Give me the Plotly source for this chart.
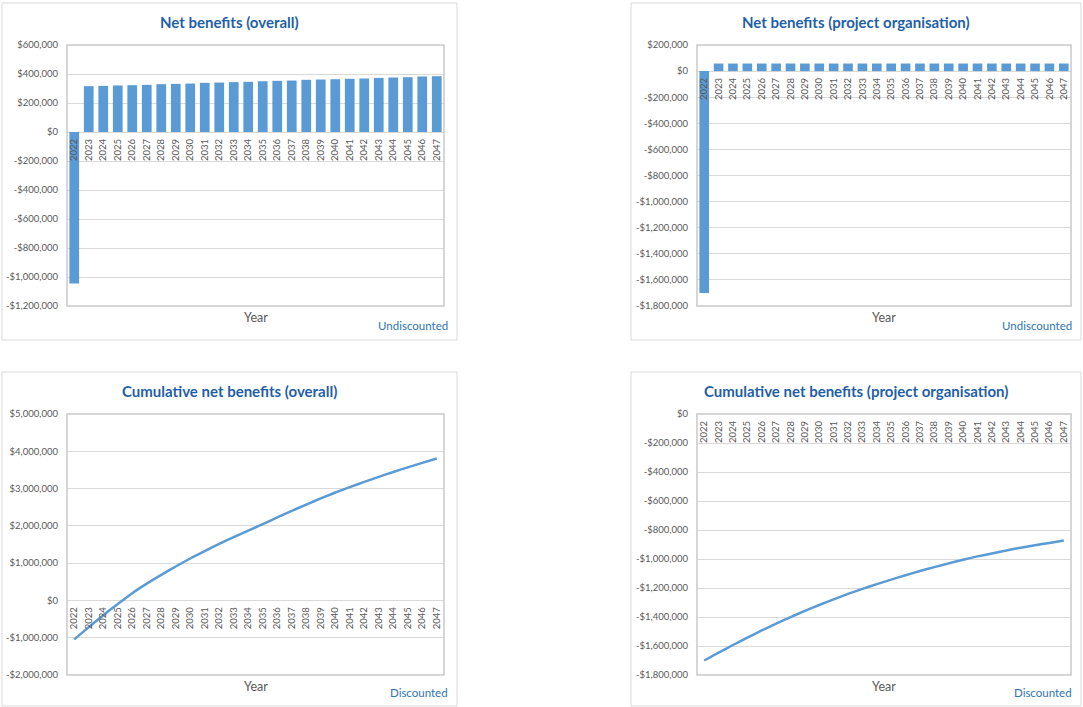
import plotly.graph_objects as go

# ---- data ----
years = [str(y) for y in range(2022, 2048)]

net_overall = [
    -1045000, 316000, 318000, 321000, 323000, 325000, 330000, 332000, 334000,
    339000, 341000, 344000, 346000, 350000, 353000, 355000, 360000, 362000,
    364000, 367000, 369000, 373000, 376000, 378000, 383000, 385000,
]

net_project = [
    -1700000, 58000, 58000, 58000, 58000, 58000, 58000, 58000, 58000,
    58000, 58000, 58000, 58000, 58000, 58000, 58000, 58000, 58000,
    58000, 58000, 58000, 58000, 58000, 58000, 58000, 58000,
]

cum_overall_disc = [
    -1045000, -715000, -395000, -95000, 195000, 450000, 685000, 910000,
    1125000, 1325000, 1515000, 1700000, 1875000, 2045000, 2225000, 2400000,
    2570000, 2735000, 2895000, 3040000, 3180000, 3315000, 3445000, 3570000,
    3690000, 3805000,
]

cum_project_disc = [
    -1700000, -1646000, -1593000, -1542000, -1493000, -1446000, -1401000,
    -1358000, -1317000, -1278000, -1241000, -1206000, -1173000, -1142000,
    -1112000, -1083000, -1056000, -1030000, -1005000, -982000, -962000,
    -941000, -922000, -905000, -889000, -873000,
]

ticks_overall = [-1200000, -1000000, -800000, -600000, -400000, -200000, 0,
                 200000, 400000, 600000]
ticks_project = [-1800000, -1600000, -1400000, -1200000, -1000000, -800000,
                 -600000, -400000, -200000, 0, 200000]
ticks_cum_overall = [-2000000, -1000000, 0, 1000000, 2000000, 3000000,
                     4000000, 5000000]
ticks_cum_project = [-1800000, -1600000, -1400000, -1200000, -1000000,
                     -800000, -600000, -400000, -200000, 0]

titles = [
    "Net benefits (overall)",
    "Net benefits (project organisation)",
    "Cumulative net benefits (overall)",
    "Cumulative net benefits (project organisation)",
]
notes = ["Undiscounted", "Undiscounted", "Discounted", "Discounted"]

# ---- styling ----
W, H = 1083, 707
FONT = "Lato, 'Open Sans', sans-serif"
BLUE = "#5b9bd5"
TITLE_BLUE = "#1f5fa8"
NOTE_BLUE = "#2e74b5"
GREY_TXT = "#595959"
GRID = "#d9d9d9"


def money(v):
    return ("-" if v < 0 else "") + "$" + f"{abs(v):,.0f}"


def px_x(x):
    return x / W


def px_y(y):
    return 1 - y / H


# panel boxes (chart areas) and plot areas, in pixels: (x0, y0, x1, y1)
panels = [(2, 3, 457, 340), (631, 3, 1081, 340),
          (2, 372, 457, 706), (631, 372, 1081, 706)]
plots = [(67, 45, 444, 306), (697, 45, 1071, 306),
         (67, 414, 444, 675), (697, 414, 1071, 675)]
ranges = [(-1200000, 600000), (-1800000, 200000),
          (-2000000, 5000000), (-1800000, 0)]
tickvals = [ticks_overall, ticks_project, ticks_cum_overall, ticks_cum_project]
series = [net_overall, net_project, cum_overall_disc, cum_project_disc]
kinds = ["bar", "bar", "line", "line"]

fig = go.Figure()
shapes = []
annotations = []
layout = {}

for i in range(4):
    sfx = "" if i == 0 else str(i + 1)
    xa, ya = "x" + sfx, "y" + sfx
    px0, py0, px1, py1 = plots[i]
    ydom = [px_y(py1), px_y(py0)]
    xdom = [px_x(px0), px_x(px1)]
    lo, hi = ranges[i]
    zero_pos = ydom[0] + (0 - lo) / (hi - lo) * (ydom[1] - ydom[0])

    if kinds[i] == "bar":
        fig.add_trace(go.Bar(
            x=years, y=series[i], xaxis=xa, yaxis=ya,
            marker=dict(color=BLUE, line=dict(width=0)),
            showlegend=False,
        ))
    else:
        fig.add_trace(go.Scatter(
            x=years, y=series[i], xaxis=xa, yaxis=ya, mode="lines",
            line=dict(color=BLUE, width=2.5, shape="spline", smoothing=0.6),
            showlegend=False,
        ))

    layout["xaxis" + sfx] = dict(
        domain=xdom, anchor="free", position=zero_pos, automargin=False,
        type="category", range=[-0.5, len(years) - 0.5],
        showgrid=False, zeroline=False, showline=False, ticks="",
        tickangle=-90, ticklabelstandoff=4,
        tickfont=dict(family=FONT, size=9.5, color=GREY_TXT),
        fixedrange=True,
    )
    layout["yaxis" + sfx] = dict(
        domain=ydom, anchor=xa, range=[lo, hi], automargin=False,
        tickvals=tickvals[i], ticktext=[money(v) for v in tickvals[i]],
        showgrid=True, gridcolor=GRID, gridwidth=1,
        zeroline=False, showline=False, ticks="", ticklabelstandoff=8,
        tickfont=dict(family=FONT, size=9.5, color=GREY_TXT),
        fixedrange=True,
    )

    # chart-area frame
    bx0, by0, bx1, by1 = panels[i]
    shapes.append(dict(type="rect", xref="paper", yref="paper",
                       x0=px_x(bx0), x1=px_x(bx1), y0=px_y(by1), y1=px_y(by0),
                       line=dict(color=GRID, width=1), layer="below"))
    # plot-area frame
    shapes.append(dict(type="rect", xref="paper", yref="paper",
                       x0=xdom[0], x1=xdom[1], y0=ydom[0], y1=ydom[1],
                       line=dict(color="#c9c9c9", width=1.5), layer="above"))

    # title
    annotations.append(dict(
        text="<b>" + titles[i] + "</b>", xref="paper", yref="paper",
        x=px_x((bx0 + bx1) / 2), y=px_y(by0 + 19), xanchor="center",
        yanchor="middle", showarrow=False,
        font=dict(family=FONT, size=15, color=TITLE_BLUE)))
    # axis title
    annotations.append(dict(
        text="Year", xref="paper", yref="paper",
        x=px_x((px0 + px1) / 2), y=px_y(py1 + 11), xanchor="center",
        yanchor="middle", showarrow=False,
        font=dict(family=FONT, size=12.5, color=GREY_TXT)))
    # discounting note
    annotations.append(dict(
        text=notes[i], xref="paper", yref="paper",
        x=px_x(bx1 - 7), y=px_y(by1 - 14), xanchor="right",
        yanchor="middle", showarrow=False,
        font=dict(family=FONT, size=11.5, color=NOTE_BLUE)))

fig.update_layout(
    width=W, height=H,
    margin=dict(l=0, r=0, t=0, b=0, autoexpand=False),
    paper_bgcolor="white", plot_bgcolor="white",
    bargap=0.33, showlegend=False,
    shapes=shapes, annotations=annotations,
    **layout,
)

fig.write_html("out.html", config={"displayModeBar": False})
